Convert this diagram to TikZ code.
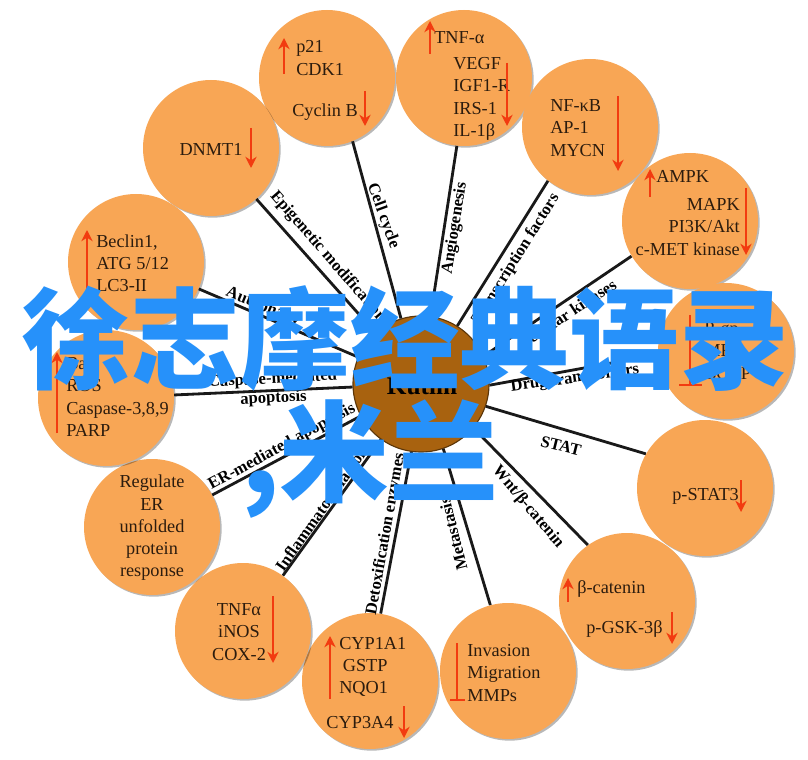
\documentclass[tikz,border=0pt]{standalone}
\usepackage{fontspec}
\setmainfont{Liberation Serif}
\newfontfamily\cjk{Noto Sans CJK SC}
\usetikzlibrary{shadows,arrows.meta,calc}
\definecolor{pathway}{HTML}{F8A655}
\definecolor{hubbrown}{HTML}{A8620F}
\definecolor{marker}{HTML}{F23B10}
\definecolor{overlay}{HTML}{2691FA}
\definecolor{ink}{HTML}{2C1C0E}
\tikzset{
    pathway/.style = {circle, fill=pathway, minimum size=136*0.025cm, inner sep=0pt,
                      drop shadow={shadow xshift=1.2pt, shadow yshift=-1.2pt, opacity=0.28, fill=black}},
    gene/.style = {text=ink, inner sep=0pt, align=left, font=\fontsize{13}{15.8}\selectfont},
    spoke/.style = {draw=black!90, line width=2pt},
    el/.style = {inner sep=0pt, align=center, font=\fontsize{11.8}{13.5}\selectfont\bfseries},
    upreg/.style = {draw=marker, line width=1.8pt, -{Stealth[length=8pt,width=8pt]}},
    inhibit/.style = {draw=marker, line width=1.8pt},
    banner/.style = {text=overlay, inner sep=0pt, font=\fontsize{78}{78}\selectfont\cjk\bfseries}
}
\begin{document}
\begin{tikzpicture}[x=0.025cm,y=-0.025cm]
  \useasboundingbox (0,0) rectangle (808,760);

  \node (K) at (421,384) [circle, fill=hubbrown, draw=hubbrown!55!black, line width=0.8pt,
                          minimum size=136*0.025cm, inner sep=0pt] {};
  \node (PC) at (327,78) [pathway] {};
  \node (TN) at (464,78) [pathway] {};
  \node (DN) at (211,148) [pathway] {};
  \node (NF) at (590,127) [pathway] {};
  \node (AM) at (690,221) [pathway] {};
  \node (PG) at (726,351) [pathway] {};
  \node (ST) at (705,488) [pathway] {};
  \node (BC) at (627,601) [pathway] {};
  \node (IV) at (508,671) [pathway] {};
  \node (CY) at (370,681) [pathway] {};
  \node (TA) at (243,631) [pathway] {};
  \node (RE) at (152,527) [pathway] {};
  \node (BX) at (106,398) [pathway] {};
  \node (BE) at (136,262) [pathway] {};

  \path (K.107) edge [spoke] (PC.-68);
  \path (K.82) edge [spoke] (TN.-96);
  \path (K) edge [spoke] (DN);
  \path (K.58) edge [spoke] (NF.232);
  \path (K.24) edge [spoke] (AM.211);
  \path (K.-1) edge [spoke] (PG.183);
  \path (K.-19) edge [spoke] (ST.150);
  \path (K.-40) edge [spoke] (BC.125);
  \path (K.-71) edge [spoke] (IV.105);
  \path (K.-98) edge [spoke] (CY.81);
  \path (K) edge [spoke] (TA);
  \path (K) edge [spoke] (RE);
  \path (K) edge [spoke] (BX);
  \path (K) edge [spoke] (BE);

  % labels on the spokes
  \node (L1) at (383,216) [el, rotate=-70] {Cell cycle};
  \node (L2) at (455,228) [el, rotate=81] {Angiogenesis};
  \node (L3) at (328,257) [el, rotate=-49] {Epigenetic modification};
  \node (L4) at (516,259) [el, rotate=58] {Transcription factors};
  \node (L5) at (567,314) [el, rotate=33] {Cellular kinases};
  \node (L6) at (575,379) [el, rotate=8] {Drug transporters};
  \node (L7) at (561,446) [el, rotate=-14] {STAT};
  \node (L8) at (528,507) [el, rotate=-50] {Wnt/β-catenin};
  \node (L9) at (453,534) [el, rotate=104] {Metastasis};
  \node (L10) at (386,534) [el, rotate=80] {Detoxification enzymes};
  \node (L11) at (324,508) [el, rotate=55] {Inflammatory factors};
  \node (L12) at (282,447) [el, rotate=28.5] {ER-mediated apoptosis};
  \node (L13) at (273,389) [el, rotate=3] {Caspase-mediated\\apoptosis};
  \node (L14) at (263,307) [el, rotate=-22] {Autophagy};

  % text in the circles
  \node (Kt) at (422,386) [inner sep=0pt, font=\fontsize{18}{18}\selectfont\bfseries] {Kutlin};
  \node (PCa) at (296,58) [gene, anchor=west] {p21\\CDK1};
  \node (PCb) at (292,112) [gene, anchor=west] {Cyclin B};
  \node (TNa) at (434,38) [gene, anchor=west] {TNF-α};
  \node (TNb) at (453,99) [gene, anchor=west] {VEGF\\IGF1-R\\IRS-1\\IL-1β};
  \node (DNa) at (211,149) [gene] {DNMT1};
  \node (NFa) at (550,128) [gene, anchor=west] {NF-κB\\AP-1\\MYCN};
  \node (AMa) at (656,176) [gene, anchor=west] {AMPK};
  \node (AMb) at (740,227) [gene, anchor=east, align=right] {MAPK\\PI3K/Akt\\c-MET kinase};
  \node (PGa) at (704,351) [gene, anchor=west] {P-gp\\MRP\\BCRP};
  \node (STa) at (672,496) [gene, anchor=west] {p-STAT3};
  \node (BCa) at (577,589) [gene, anchor=west] {β-catenin};
  \node (BCb) at (586,629) [gene, anchor=west] {p-GSK-3β};
  \node (IVa) at (467,673) [gene, anchor=west] {Invasion\\Migration\\MMPs};
  \node (CYa) at (339,667) [gene, anchor=west] {CYP1A1\\\hspace{2.5pt}GSTP\\NQO1};
  \node (CYb) at (360,723) [gene] {CYP3A4};
  \node (TAa) at (239,632) [gene, align=center] {TNFα\\iNOS\\COX-2};
  \node (REa) at (152,528) [gene, align=center] {Regulate\\ER\\unfolded\\protein\\response};
  \node (BXa) at (66,397) [gene, anchor=west] {Bax\\ROS\\Caspase-3,8,9\\PARP};
  \node (BEa) at (96,263) [gene, anchor=west] {Beclin1,\\ATG 5/12\\LC3-II};

  % up and down markers
  \coordinate (a1) at (284,74); \coordinate (b1) at (284,38);
  \coordinate (a2) at (365,91); \coordinate (b2) at (365,126);
  \coordinate (a3) at (430,54); \coordinate (b3) at (430,21);
  \coordinate (a4) at (507,63); \coordinate (b4) at (507,126);
  \coordinate (a5) at (251,128); \coordinate (b5) at (251,168);
  \coordinate (a6) at (618,96); \coordinate (b6) at (618,171);
  \coordinate (a7) at (650,197); \coordinate (b7) at (650,169);
  \coordinate (a8) at (746,188); \coordinate (b8) at (746,255);
  \coordinate (a9) at (87,300); \coordinate (b9) at (87,230);
  \coordinate (a10) at (57,433); \coordinate (b10) at (57,352);
  \coordinate (a11) at (741,480); \coordinate (b11) at (741,512);
  \coordinate (a12) at (568,602); \coordinate (b12) at (568,578);
  \coordinate (a13) at (672,612); \coordinate (b13) at (672,644);
  \coordinate (a14) at (273,596); \coordinate (b14) at (273,663);
  \coordinate (a15) at (330,699); \coordinate (b15) at (330,636);
  \coordinate (a16) at (404,706); \coordinate (b16) at (404,738);
  \path (a1) edge [upreg] (b1);
  \path (a2) edge [upreg] (b2);
  \path (a3) edge [upreg] (b3);
  \path (a4) edge [upreg] (b4);
  \path (a5) edge [upreg] (b5);
  \path (a6) edge [upreg] (b6);
  \path (a7) edge [upreg] (b7);
  \path (a8) edge [upreg] (b8);
  \path (a9) edge [upreg] (b9);
  \path (a10) edge [upreg] (b10);
  \path (a11) edge [upreg] (b11);
  \path (a12) edge [upreg] (b12);
  \path (a13) edge [upreg] (b13);
  \path (a14) edge [upreg] (b14);
  \path (a15) edge [upreg] (b15);
  \path (a16) edge [upreg] (b16);

  \coordinate (c1) at (690,315); \coordinate (d1) at (690,385);
  \coordinate (e1) at (679,385); \coordinate (f1) at (702,385);
  \coordinate (c2) at (457,643); \coordinate (d2) at (457,700);
  \coordinate (e2) at (450,700); \coordinate (f2) at (465,700);
  \path (c1) edge [inhibit] (d1);
  \path (e1) edge [inhibit] (f1);
  \path (c2) edge [inhibit] (d2);
  \path (e2) edge [inhibit] (f2);

  \node (W1) at (405,339) [banner] {徐志摩经典语录};
  \node (W2) at (370,459) [banner] {,米兰};
\end{tikzpicture}
\end{document}
